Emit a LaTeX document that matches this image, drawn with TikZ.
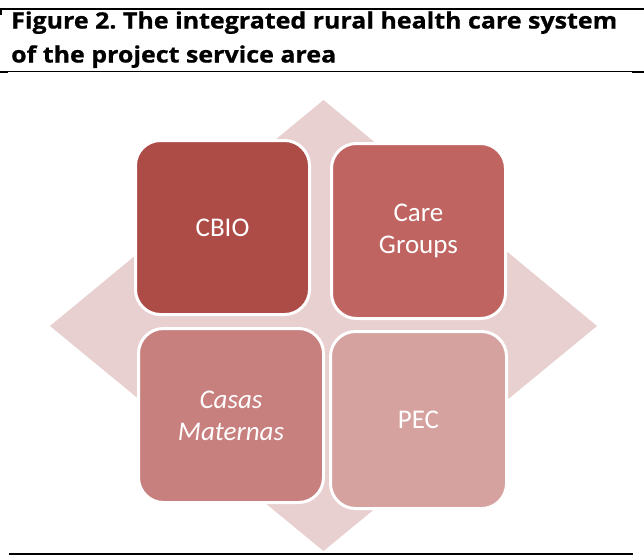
\documentclass[tikz,border=0pt]{standalone}
\usepackage{fontspec}
\setmainfont{Carlito}
\newfontfamily\titlefont[FakeStretch=1.11, BoldFeatures={FakeBold=0.8}]{Open Sans}
\frenchspacing
\definecolor{diamondbg}{HTML}{E8CFD0}
\definecolor{cbiocol}{HTML}{AD4B47}
\definecolor{carecol}{HTML}{BF6461}
\definecolor{casascol}{HTML}{C7807E}
\definecolor{peccol}{HTML}{D5A2A0}

\begin{document}
\begin{tikzpicture}[x=1pt, y=-1pt,
    every node/.style={inner sep=0pt},
    title/.style={anchor=base west, font=\titlefont\bfseries\fontsize{22.5}{22.5}\selectfont},
    cell/.style={draw=white, line width=3pt, rounded corners=25pt, text=white,
      align=center, font=\fontsize{27}{32}\selectfont}]
  \useasboundingbox (0,0) rectangle (644,555);
  % caption and rules
  \draw[line width=2.5pt] (0,9) -- (644,9);
  \draw[line width=1.5pt] (0.75,8) -- (0.75,15);
  \node[title] (cap1) at (11,28.5) {Figure 2. The integrated rural health care system};
  \node[title] (cap2) at (11,62.5) {of the project service area};
  \draw[line width=0.8pt] (8,71) -- (632,71);
  \draw[line width=1.8pt] (0,71.9) -- (8,71.9) (632,71.9) -- (644,71.9);
  \draw[line width=1.3pt] (9,554) -- (633,554);
  % background diamond
  \fill[diamondbg] (323.5,100) -- (597,326) -- (323.5,551) -- (50,326) -- cycle;
  % matrix cells
  \node[cell, fill=cbiocol, minimum width=174pt, minimum height=174pt] (cbio) at (222.5,227.5) {CBIO};
  \node[cell, fill=carecol, minimum width=174pt, minimum height=175pt] (care) at (418.5,231) {Care\\Groups};
  \node[cell, fill=casascol, minimum width=185pt, minimum height=174pt] (casas) at (231,415.5) {\itshape Casas\\\itshape Maternas};
  \node[cell, fill=peccol, minimum width=176pt, minimum height=177pt] (pec) at (418.5,420) {PEC};
\end{tikzpicture}
\end{document}
